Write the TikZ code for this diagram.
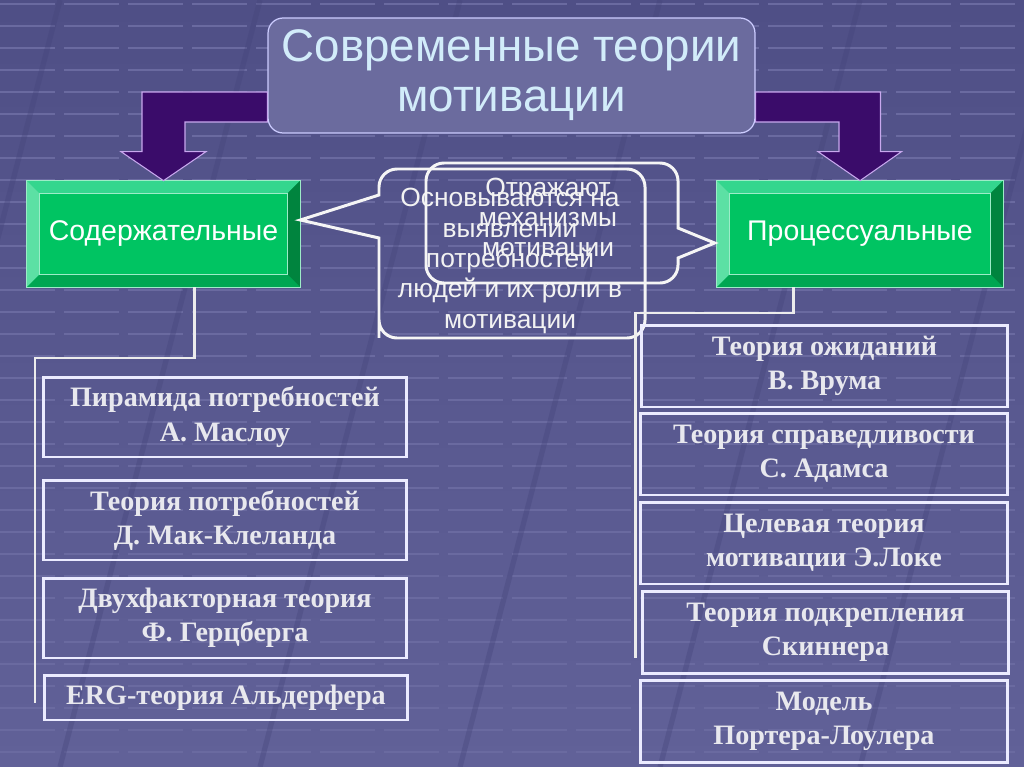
\documentclass[tikz,border=0pt]{standalone}
\usepackage{fontspec}
\setmainfont{Liberation Serif}
\setsansfont{Liberation Sans}
\usepackage{tikz}
\usetikzlibrary{calc}

\definecolor{bgtop}{HTML}{4F4F86}
\definecolor{bgbot}{HTML}{616198}
\definecolor{bgline}{HTML}{6A6AA0}
\definecolor{bgdiag}{HTML}{44447A}
\definecolor{titlefill}{HTML}{6B6B9E}
\definecolor{titletext}{HTML}{D2ECFA}
\definecolor{arrowfill}{HTML}{3A0C6A}
\definecolor{arrowedge}{HTML}{C8A8EE}
\definecolor{greenmid}{HTML}{00C462}
\definecolor{greenlight}{HTML}{5CE0A4}
\definecolor{greentop}{HTML}{34D68E}
\definecolor{greendark}{HTML}{00843E}
\definecolor{greenbot}{HTML}{00A652}
\definecolor{boxtext}{HTML}{E8E8EE}

\begin{document}
\begin{tikzpicture}[
    x=0.02cm, y=-0.02cm,
    titlebox/.style={draw=white!80!blue, line width=0.7pt, fill=titlefill, rounded corners=0.3cm, minimum width=9.74cm, minimum height=2.3cm, align=center, text=titletext, font=\sffamily\fontsize{26}{28.4}\selectfont},
    greenbox/.style={fill=greenmid, minimum height=2.12cm, inner sep=0pt, text=white, font=\sffamily\fontsize{16.2}{20}\selectfont},
    theorybox/.style={draw=white!92!blue, line width=1.7pt, minimum width=7.28cm, minimum height=1.6cm, inner sep=0pt, align=center, text=boxtext, font=\bfseries\fontsize{16}{19.4}\selectfont},
    rbox/.style={theorybox, minimum width=7.34cm, minimum height=1.64cm},
    bubbletext/.style={align=center, text=white!90!gray, font=\sffamily\fontsize{15}{17.3}\selectfont},
    bubble/.style={draw=white!92!gray, line width=1.7pt},
    wire/.style={draw=white!85!gray, line width=1.7pt},
    bigarrow/.style={fill=arrowfill, draw=arrowedge, line width=0.6pt},
    bgdash/.style={draw=bgline, line width=0.8pt, dash pattern=on 1.1cm off 0.18cm},
    bgdiagline/.style={draw=bgdiag, line width=3pt, opacity=0.35}
]
\useasboundingbox (0,0) rectangle (1024,767);

% background
\shade[top color=bgtop, bottom color=bgbot] (0,0) rectangle (1024,767);
\foreach \yy in {4,26,...,766}
    \draw[bgdash] (0,\yy) -- (1024,\yy);
\foreach \xx in {60,260,460,660,860,1060}
    \draw[bgdiagline] (\xx,0) -- (\xx-200,767);

% title and the two groups
\node[titlebox] (title) at (511.5,75.5) {Современные теории\\мотивации};
\node[greenbox, minimum width=5.46cm] (cont) at (163.5,234) {Содержательные};
\node[greenbox, minimum width=5.72cm] (proc) at (860,234) {Процессуальные};

% bevels
\foreach \n in {cont,proc} {
    \fill[greentop] (\n.north west) -- (\n.north east) -- ($(\n.north east)+(-13,13)$) -- ($(\n.north west)+(13,13)$) -- cycle;
    \fill[greenlight] (\n.north west) -- ($(\n.north west)+(13,13)$) -- ($(\n.south west)+(13,-13)$) -- (\n.south west) -- cycle;
    \fill[greendark] (\n.north east) -- (\n.south east) -- ($(\n.south east)+(-13,-13)$) -- ($(\n.north east)+(-13,13)$) -- cycle;
    \fill[greenbot] (\n.south west) -- (\n.south east) -- ($(\n.south east)+(-13,-13)$) -- ($(\n.south west)+(13,-13)$) -- cycle;
    \draw[greenlight!60!white, line width=0.5pt] ($(\n.north west)+(13,13)$) rectangle ($(\n.south east)+(-13,-13)$);
    \draw[greenlight!60!white, line width=0.5pt] (\n.north west) rectangle (\n.south east);
}

% big arrows
\draw[bigarrow] ($(title.west)+(0,16.5)$) -| ($(cont.north)+(-21.5,-29)$) -- ++(-21,0) -- (cont.north) -- ++(42.5,-29) -- ++(-21,0) |- ($(title.west)+(0,46.5)$) -- cycle;
\draw[bigarrow] ($(title.east)+(0,16.5)$) -| ($(proc.north)+(20.5,-29)$) -- ++(21,0) -- (proc.north) -- ++(-42,-29) -- ++(21,0) |- ($(title.east)+(0,46.5)$) -- cycle;

% callouts
\node[bubbletext] (basis) at (510,261) {Основываются на\\выявлении\\потребностей\\людей и их роли в\\мотивации};
\node[bubbletext] (mech) at (548,220) {Отражают\\механизмы\\мотивации};
\draw[bubble] ($(cont.east)+(0,-14)$) -- (379,195) -- (379,187) [rounded corners=0.36cm] -- (379,169) -- (645,169) -- (645,338) -- (379,338) -- (379,320) [sharp corners] -- (379,238) -- cycle;
\draw[bubble] ($(proc.west)+(-2,9)$) -- (678,258) -- (678,264) [rounded corners=0.36cm] -- (678,283) -- (426,283) -- (426,163) -- (678,163) -- (678,210) [sharp corners] -- (678,228) -- cycle;

% lists
\node[theorybox] (maslow) at (225,417) {Пирамида потребностей\\А. Маслоу};
\node[theorybox] (mcc) at (225,520) {Теория потребностей\\Д. Мак-Клеланда};
\node[theorybox] (herz) at (225,618) {Двухфакторная теория\\Ф. Герцберга};
\node[theorybox, minimum height=0.9cm] (erg) at (226,697.5) {ERG-теория Альдерфера};

\node[rbox] (vroom) at (824.5,366) {Теория ожиданий\\В. Врума};
\node[rbox] (adams) at (824,454) {Теория справедливости\\С. Адамса};
\node[rbox] (locke) at (824,543) {Целевая теория\\мотивации Э.Локе};
\node[rbox] (skin) at (825.5,632.5) {Теория подкрепления\\Скиннера};
\node[rbox] (porter) at (824,721.5) {Модель\\Портера-Лоулера};

% brackets
\coordinate (lturn) at (35,358);
\coordinate (lend) at (35,703);
\coordinate (rturn) at (635,313);
\coordinate (rend) at (635,658);
\draw[wire] ($(cont.south)+(31,0)$) |- (lturn) -- (lend);
\draw[wire] ($(proc.south)+(-67,0)$) |- (rturn) -- (rend);
\end{tikzpicture}
\end{document}
